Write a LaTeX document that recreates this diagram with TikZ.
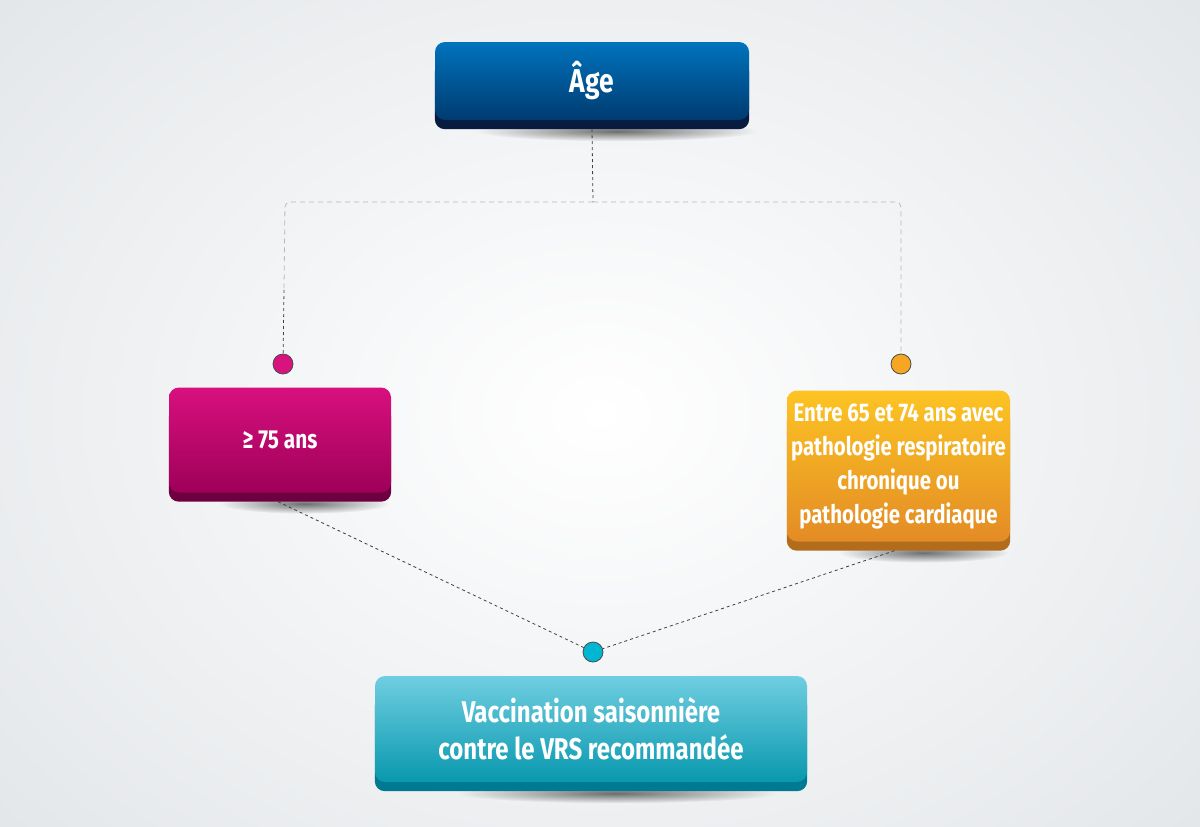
\documentclass[tikz,border=0pt]{standalone}
\usepackage{fontspec}
\setmainfont{Fira Sans}[FakeStretch=0.80]
\usetikzlibrary{backgrounds,fadings}
\pgfdeclarelayer{bgshade}
\pgfsetlayers{bgshade,background,main}
\tikzfading[name=softfade, inner color=transparent!0, outer color=transparent!100]
\definecolor{bgout}{HTML}{E4E7EA}
\definecolor{ageT}{HTML}{0073BD}
\definecolor{ageB}{HTML}{003B70}
\definecolor{ageD}{HTML}{071C3E}
\definecolor{pinkT}{HTML}{D8107F}
\definecolor{pinkB}{HTML}{9E0058}
\definecolor{pinkD}{HTML}{6D003F}
\definecolor{oraT}{HTML}{FDC423}
\definecolor{oraB}{HTML}{E38B25}
\definecolor{oraD}{HTML}{B16C1C}
\definecolor{cyaT}{HTML}{70CEE1}
\definecolor{cyaB}{HTML}{0898AE}
\definecolor{cyaD}{HTML}{007A90}
\definecolor{dotP}{HTML}{D9137E}
\definecolor{dotO}{HTML}{F6A623}
\definecolor{dotC}{HTML}{00B6D2}
\tikzset{
  face/.style={rounded corners=10pt, minimum height=#1, inner sep=0pt, align=center,
    text=white, font=\bfseries},
  dot/.style={circle, draw=black!70, line width=0.8pt, minimum size=20pt, inner sep=0pt, fill=#1},
  darkdash/.style={draw=black!75, dashed, dash pattern=on 3pt off 3pt, line width=0.8pt},
  lightdash/.style={draw=black!28, dash pattern=on 5pt off 4pt, line width=0.8pt},
}
\newcommand{\boxband}[3]{%
  \begin{scope}[on background layer]
    \fill[black, opacity=0.55, path fading=softfade]
      ([xshift=25pt,yshift=-11pt]#1.south) ellipse ({#3} and 10pt);
    \fill[#2, rounded corners=10pt] ([yshift=-9pt]#1.south west) rectangle ([yshift=-20pt]#1.north east);
  \end{scope}}
\begin{document}
\begin{tikzpicture}[x=1pt,y=-1pt]
\useasboundingbox (0,0) rectangle (1200,827);
\begin{pgfonlayer}{bgshade}
\shade[inner color=white, outer color=bgout] (-200,-200) rectangle (1400,1027);
\end{pgfonlayer}

\node[face=78pt, minimum width=314pt, top color=ageT, bottom color=ageB, font=\bfseries\fontsize{33}{36}\selectfont]
  (age) at (592,81) {Âge};
\node[face=105pt, minimum width=222pt, top color=pinkT, bottom color=pinkB, font=\bfseries\fontsize{26}{30}\selectfont]
  (p75) at (280,440) {≥ 75 ans};
\node[face=151pt, minimum width=223pt, top color=oraT, bottom color=oraB, font=\bfseries\fontsize{25.5}{34}\selectfont]
  (p65) at (898.5,466) {Entre 65 et 74 ans avec\\pathologie respiratoire\\chronique ou\\pathologie cardiaque};
\node[face=106pt, minimum width=432pt, top color=cyaT, bottom color=cyaB, font=\bfseries\fontsize{30}{37}\selectfont]
  (vac) at (591,729) {Vaccination saisonnière\\contre le VRS recommandée};

\boxband{age}{ageD}{140pt}
\boxband{p75}{pinkD}{85pt}
\boxband{p65}{oraD}{85pt}
\boxband{vac}{cyaD}{160pt}

\node[dot=dotP] (dP) at (283,364) {};
\node[dot=dotO] (dO) at (901,364) {};
\node[dot=dotC] (dC) at (593,652) {};

\coordinate (j) at (593,202);
\coordinate (jl) at (285,202);
\coordinate (jr) at (901,202);
\coordinate (ml) at (284,290);

\draw[darkdash] ([yshift=-9pt]age.south) -- (j);
\draw[lightdash, rounded corners=5pt] (j) -- (jl) -- (ml);
\draw[lightdash, rounded corners=5pt] (j) -- (jr) -- (dO);
\draw[darkdash] (ml) -- (dP);
\draw[darkdash] ([xshift=-2pt,yshift=-9pt]p75.south) -- (dC);
\draw[darkdash] ([xshift=-4pt,yshift=-9pt]p65.south) -- (dC);
\end{tikzpicture}
\end{document}
